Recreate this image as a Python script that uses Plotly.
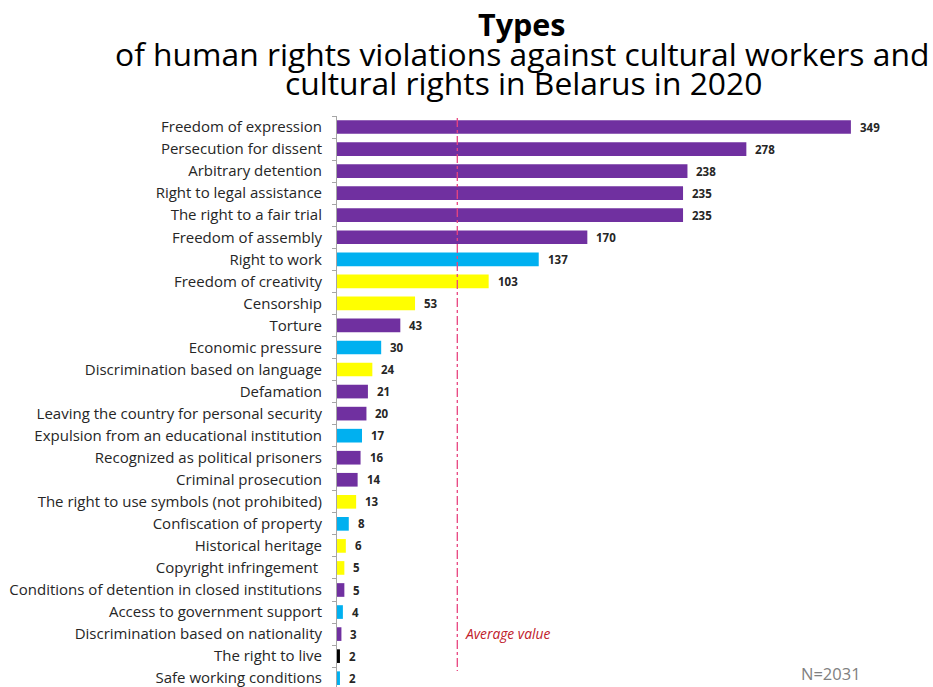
import plotly.graph_objects as go

# Violation types, counts and colour groups
categories = [
    "Freedom of expression",
    "Persecution for dissent",
    "Arbitrary detention",
    "Right to legal assistance",
    "The right to a fair trial",
    "Freedom of assembly",
    "Right to work",
    "Freedom of creativity",
    "Censorship",
    "Torture",
    "Economic pressure",
    "Discrimination based on language",
    "Defamation",
    "Leaving the country for personal security",
    "Expulsion from an educational institution",
    "Recognized as political prisoners",
    "Criminal prosecution",
    "The right to use symbols (not prohibited)",
    "Confiscation of property",
    "Historical heritage",
    "Copyright infringement\u00a0",
    "Conditions of detention in closed institutions",
    "Access to government support",
    "Discrimination based on nationality",
    "The right to live",
    "Safe working conditions",
]
counts = [349, 278, 238, 235, 235, 170, 137, 103, 53, 43, 30, 24, 21, 20,
          17, 16, 14, 13, 8, 6, 5, 5, 4, 3, 2, 2]
groups = ["civil", "civil", "civil", "civil", "civil", "civil", "social",
          "cultural", "cultural", "civil", "social", "cultural", "civil",
          "civil", "social", "civil", "civil", "cultural", "social",
          "cultural", "cultural", "civil", "social", "civil", "life", "social"]
average_value = 81.7
total_label = "N=2031"

group_colors = {
    "civil": "#7030A0",
    "social": "#00B0F0",
    "cultural": "#FFFF00",
    "life": "#000000",
}

W, H = 933, 687
M_L, M_R, M_T, M_B = 337, 7, 116, 0
PLOT_W = W - M_L - M_R
PLOT_H = H - M_T - M_B


def py(pix):
    """Paper y for a pixel row measured from the top of the page."""
    return (H - M_B - pix) / PLOT_H


def px(pix):
    """Paper x for a pixel column measured from the left of the page."""
    return (pix - M_L) / PLOT_W


FONT = "'Open Sans', Lato, sans-serif"

fig = go.Figure()
fig.add_trace(go.Bar(
    x=counts,
    y=categories,
    orientation="h",
    marker=dict(color=[group_colors[g] for g in groups], line=dict(width=0)),
    width=0.62,
    hoverinfo="x+y",
))

annotations = []
for cat, val in zip(categories, counts):
    annotations.append(dict(
        x=val, y=cat, xref="x", yref="y", text=f"<b>{val}</b>",
        showarrow=False, xanchor="left", xshift=7,
        font=dict(family=FONT, size=11.5, color="#262626"),
    ))

# Title lines
annotations += [
    dict(x=px(522), y=py(24), xref="paper", yref="paper", text="<b>Types</b>",
         showarrow=False, xanchor="center", yanchor="middle",
         font=dict(family=FONT, size=30.5, color="#000000")),
    dict(x=px(522), y=py(54), xref="paper", yref="paper",
         text="of human rights violations against cultural workers and",
         showarrow=False, xanchor="center", yanchor="middle",
         font=dict(family=FONT, size=31.8, color="#000000")),
    dict(x=px(523), y=py(83), xref="paper", yref="paper",
         text="cultural rights in Belarus in 2020",
         showarrow=False, xanchor="center", yanchor="middle",
         font=dict(family=FONT, size=31.8, color="#000000")),
    dict(x=average_value, y=py(633), xref="x", yref="paper",
         text="<i>Average value</i>", showarrow=False,
         xanchor="left", yanchor="middle", xshift=6,
         font=dict(family=FONT, size=13.8, color="#C0202A")),
    dict(x=px(863), y=0, xref="paper", yref="paper", text=total_label,
         showarrow=False, xanchor="right", yanchor="bottom",
         font=dict(family=FONT, size=16.5, color="#808080")),
]

fig.add_shape(
    type="line", xref="x", yref="paper",
    x0=average_value, x1=average_value, y0=py(118), y1=py(671),
    line=dict(color="#E8457F", width=1.3, dash="dashdot"),
    layer="above",
)

fig.update_layout(
    width=W, height=H,
    margin=dict(l=M_L, r=M_R, t=M_T, b=M_B, pad=0),
    paper_bgcolor="#FFFFFF", plot_bgcolor="#FFFFFF",
    showlegend=False,
    annotations=annotations,
    font=dict(family=FONT, color="#262626"),
    xaxis=dict(range=[0, 400], visible=False, showgrid=False, zeroline=False),
    yaxis=dict(
        type="category",
        categoryorder="array", categoryarray=categories,
        range=[25.4, -0.5],
        showline=True, linecolor="#A6A6A6", linewidth=1,
        ticks="outside", tickson="boundaries", ticklen=4,
        tickcolor="#A6A6A6", tickwidth=1,
        ticklabelstandoff=11,
        tickfont=dict(family=FONT, size=15, color="#262626"),
        showgrid=False, zeroline=False,
    ),
)

fig.write_html("out.html")
